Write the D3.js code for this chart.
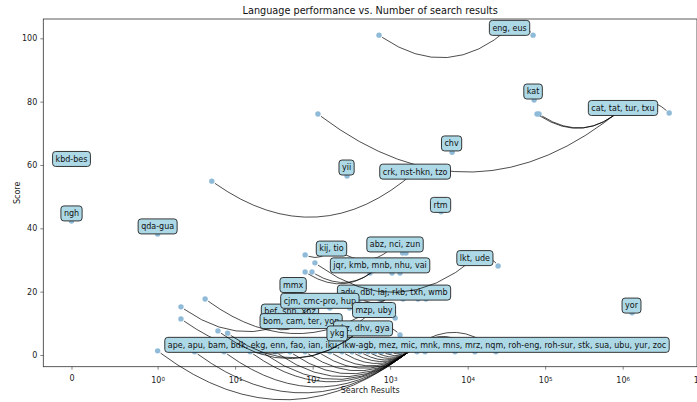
<!DOCTYPE html>
<html>
<head>
<meta charset="utf-8">
<title>Language performance</title>
<style>
  body { margin: 0; background: #fff; }
  text { font-family: "DejaVu Sans", sans-serif; }
</style>
</head>
<body>
<svg id="chart" width="697" height="402"></svg>
<script src="https://cdn.jsdelivr.net/npm/d3@7"></script>
<script>
// one entry per language: name, number of search results, score
const languages = [
  "eng", "eus", "kat", "cat", "tat", "tur", "txu", "chv", "kbd-bes", "yii",
  "crk", "nst-hkn", "tzo", "rtm", "ngh", "qda-gua", "abz", "nci", "zun", "kij", "tio",
  "lkt", "ude", "jqr", "kmb", "mnb", "nhu", "vai", "mmx",
  "adv", "dbl", "laj", "rkb", "txh", "wmb", "cjm", "cmc-pro", "hup", "yor",
  "bef", "snn", "xnz", "mzp", "uby", "bom", "cam", "ter", "yon", "ckz", "dhv", "gya", "ykg",
  "ape", "apu", "bam", "bdk", "ekg", "enn", "fao", "ian", "iku", "ikw-agb", "mez", "mic",
  "mnk", "mns", "mrz", "nqm", "roh-eng", "roh-sur", "stk", "sua", "ubu", "yur", "zoc"
]
const searchResults = [
  719, 69800, 72000, 117, 78500, 83300, 3980000, 6300, 0, 278,
  5, 1550, 2800, 4540, 0, 1, 240, 1600, 1450, 80, 195,
  107, 24700, 80, 98, 550, 1057, 1340, 56,
  4.1, 1466, 2290, 2900, 741, 410, 2, 167, 300, 1320000,
  24, 44, 80, 1160, 2, 28, 51, 92, 167, 6, 8, 1340, 207,
  1, 3, 7.2, 15.6, 22, 33, 51, 80, 117, 167, 239, 322,
  409, 519, 638, 785, 997, 1340, 2220, 2820, 6870, 12400, 23200
]
const scores = [
  101, 101, 80.5, 76.1, 76.1, 76.1, 76.4, 64, 60.3, 56.5,
  54.9, 56.3, 56.3, 45.2, 42.3, 38.2, 32.2, 32.2, 32.2, 31.6, 32.5,
  29.1, 28.1, 26.2, 26.2, 25.9, 25.9, 25.9, 19.9,
  17.7, 17.7, 17.7, 17.7, 17.7, 17.7, 15.2, 14.8, 14.8, 13.3,
  11.7, 11.7, 11.7, 11.7, 11.4, 9.2, 9.2, 9.2, 9.2, 7.6, 6.9, 6.3, 5.1,
  1.3, 1, 1, 1, 1, 1, 1, 1, 1, 1, 1, 1,
  1, 1, 1, 1, 1, 1, 1, 1, 1, 1, 1
]

// annotation labels and where they sit (results, score)
const groupLabels = [
  "eng, eus", "kat", "cat, tat, tur, txu", "chv", "kbd-bes", "yii", "crk, nst-hkn, tzo",
  "rtm", "ngh", "qda-gua", "abz, nci, zun", "kij, tio", "adv, dbl, laj, rkb, txh, wmb",
  "lkt, ude", "jqr, kmb, mnb, nhu, vai", "mmx", "bef, snn, xnz", "cjm, cmc-pro, hup",
  "mzp, uby", "yor", "bom, cam, ter, yon",
  "ape, apu, bam, bdk, ekg, enn, fao, ian, iku, ikw-agb, mez, mic, mnk, mns, mrz, nqm, roh-eng, roh-sur, stk, sua, ubu, yur, zoc",
  "ckz, dhv, gya", "ykg"
]
const labelResults = [
  34700, 69800, 1010000, 6200, 0, 274, 2100,
  4470, 0, 1, 1156, 175, 1122,
  12400, 741, 56, 51, 124,
  620, 1300000, 71,
  2220,
  447, 207
]
const labelScores = [
  103.3, 83.2, 78, 66.8, 61.9, 59.2, 57.9,
  47.4, 44.7, 40.6, 34.9, 33.6, 19.7,
  30.6, 28.3, 22.1, 13.7, 17.1,
  14.2, 15.6, 10.7,
  3.2,
  8.4, 6.8
]

const xTickValues = [0, 1, 10, 100, 1e3, 1e4, 1e5, 1e6, 1e7]
const xTickExp = [null, "0", "1", "2", "3", "4", "5", "6", "7"]
const yTickValues = [0, 20, 40, 60, 80, 100]

// symmetric log transform, linear below 1 (like matplotlib symlog, linthresh=1)
const linScale = 1 / (1 - 1 / 10)
function symlog(v) {
  return v <= 1 ? v * linScale : linScale + Math.log10(v)
}

let svg = d3.select("#chart")
let plotLeft = 43.3, plotRight = 697, plotTop = 19, plotBottom = 366.7

let xT = d3.scaleLinear().domain([-0.364, 8.07]).range([plotLeft, plotRight])
let x = v => xT(symlog(v))
let y = d3.scaleLinear().domain([-3.7, 106.1]).range([plotBottom, plotTop])

// axes
let xAxis = svg.append("g")
  .attr("transform", `translate(0,${plotBottom})`)
  .call(d3.axisBottom(xT).tickValues(xTickValues.map(symlog)).tickSize(3).tickPadding(3))
xAxis.select(".domain").remove()
xAxis.selectAll(".tick line").attr("stroke", "#333").attr("stroke-width", 0.6)
xAxis.selectAll(".tick text").each(function(d, i) {
  let t = d3.select(this).text(null).attr("font-size", 8).attr("fill", "#222")
  if (xTickExp[i] === null) {
    t.attr("dy", "1.05em").text("0")
  } else {
    t.attr("dy", "1.3em")
    t.append("tspan").text("10")
    t.append("tspan").attr("dy", "-0.45em").attr("font-size", 5.6).text(xTickExp[i])
  }
})

let yAxis = svg.append("g")
  .attr("transform", `translate(${plotLeft},0)`)
  .call(d3.axisLeft(y).tickValues(yTickValues).tickSize(3).tickPadding(3))
yAxis.select(".domain").remove()
yAxis.selectAll(".tick line").attr("stroke", "#333").attr("stroke-width", 0.6)
yAxis.selectAll(".tick text").attr("font-size", 8).attr("fill", "#222")

svg.append("rect")
  .attr("x", plotLeft).attr("y", plotTop)
  .attr("width", plotRight - plotLeft).attr("height", plotBottom - plotTop)
  .attr("fill", "none").attr("stroke", "#333").attr("stroke-width", 0.8)

svg.append("text").attr("x", (plotLeft + plotRight) / 2).attr("y", 14)
  .attr("text-anchor", "middle").attr("font-size", 9.7).attr("fill", "#111")
  .text("Language performance vs. Number of search results")
svg.append("text").attr("x", (plotLeft + plotRight) / 2).attr("y", 393)
  .attr("text-anchor", "middle").attr("font-size", 8).attr("fill", "#222")
  .text("Search Results")
svg.append("text").attr("transform", `translate(20,${(plotTop + plotBottom) / 2}) rotate(-90)`)
  .attr("text-anchor", "middle").attr("font-size", 8).attr("fill", "#222")
  .text("Score")

// scatter
let points = languages.map((name, i) => ({ name, r: searchResults[i], s: scores[i] }))
svg.append("g").selectAll("circle")
  .data(points)
  .enter()
  .append("circle")
  .attr("cx", d => x(d.r))
  .attr("cy", d => y(d.s))
  .attr("r", 2.7)
  .attr("fill", "#8fbbd9")

// arc3 style connector from label centre to point, rad = -0.4
function connector(x0, y0, x2, y2) {
  let dx = x2 - x0, dy = y2 - y0
  let cx = (x0 + x2) / 2 + 0.4 * dy
  let cy = (y0 + y2) / 2 - 0.4 * dx
  let len = Math.hypot(dx, dy)
  let t = Math.max(0, 1 - 3 / Math.max(len, 1))
  // sub-curve [0, t]
  let q1x = x0 + t * (cx - x0), q1y = y0 + t * (cy - y0)
  let ex = (1 - t) * (1 - t) * x0 + 2 * (1 - t) * t * cx + t * t * x2
  let ey = (1 - t) * (1 - t) * y0 + 2 * (1 - t) * t * cy + t * t * y2
  return `M${x0},${y0}Q${q1x},${q1y} ${ex},${ey}`
}

let byName = new Map(points.map(p => [p.name, p]))
let annot = svg.append("g")

groupLabels.forEach((label, i) => {
  let lx = x(labelResults[i]), ly = y(labelScores[i])
  let members = label.split(", ").map(n => byName.get(n)).filter(p => p)
  let g = annot.append("g")
  g.selectAll("path")
    .data(members)
    .enter()
    .append("path")
    .attr("d", p => connector(lx, ly, x(p.r), y(p.s)))
    .attr("fill", "none")
    .attr("stroke", "#000")
    .attr("stroke-width", 0.7)

  let box = g.append("rect")
  let txt = g.append("text")
    .attr("x", lx).attr("y", ly)
    .attr("dy", "0.36em")
    .attr("text-anchor", "middle")
    .attr("font-size", 8)
    .attr("fill", "#111")
    .text(label)
  let w = txt.node().getComputedTextLength()
  box.attr("x", lx - w / 2 - 3).attr("y", ly - 7.5)
    .attr("width", w + 6).attr("height", 15)
    .attr("rx", 3)
    .attr("fill", "#add8e6")
    .attr("stroke", "#222")
    .attr("stroke-width", 0.9)
})
</script>
</body>
</html>
